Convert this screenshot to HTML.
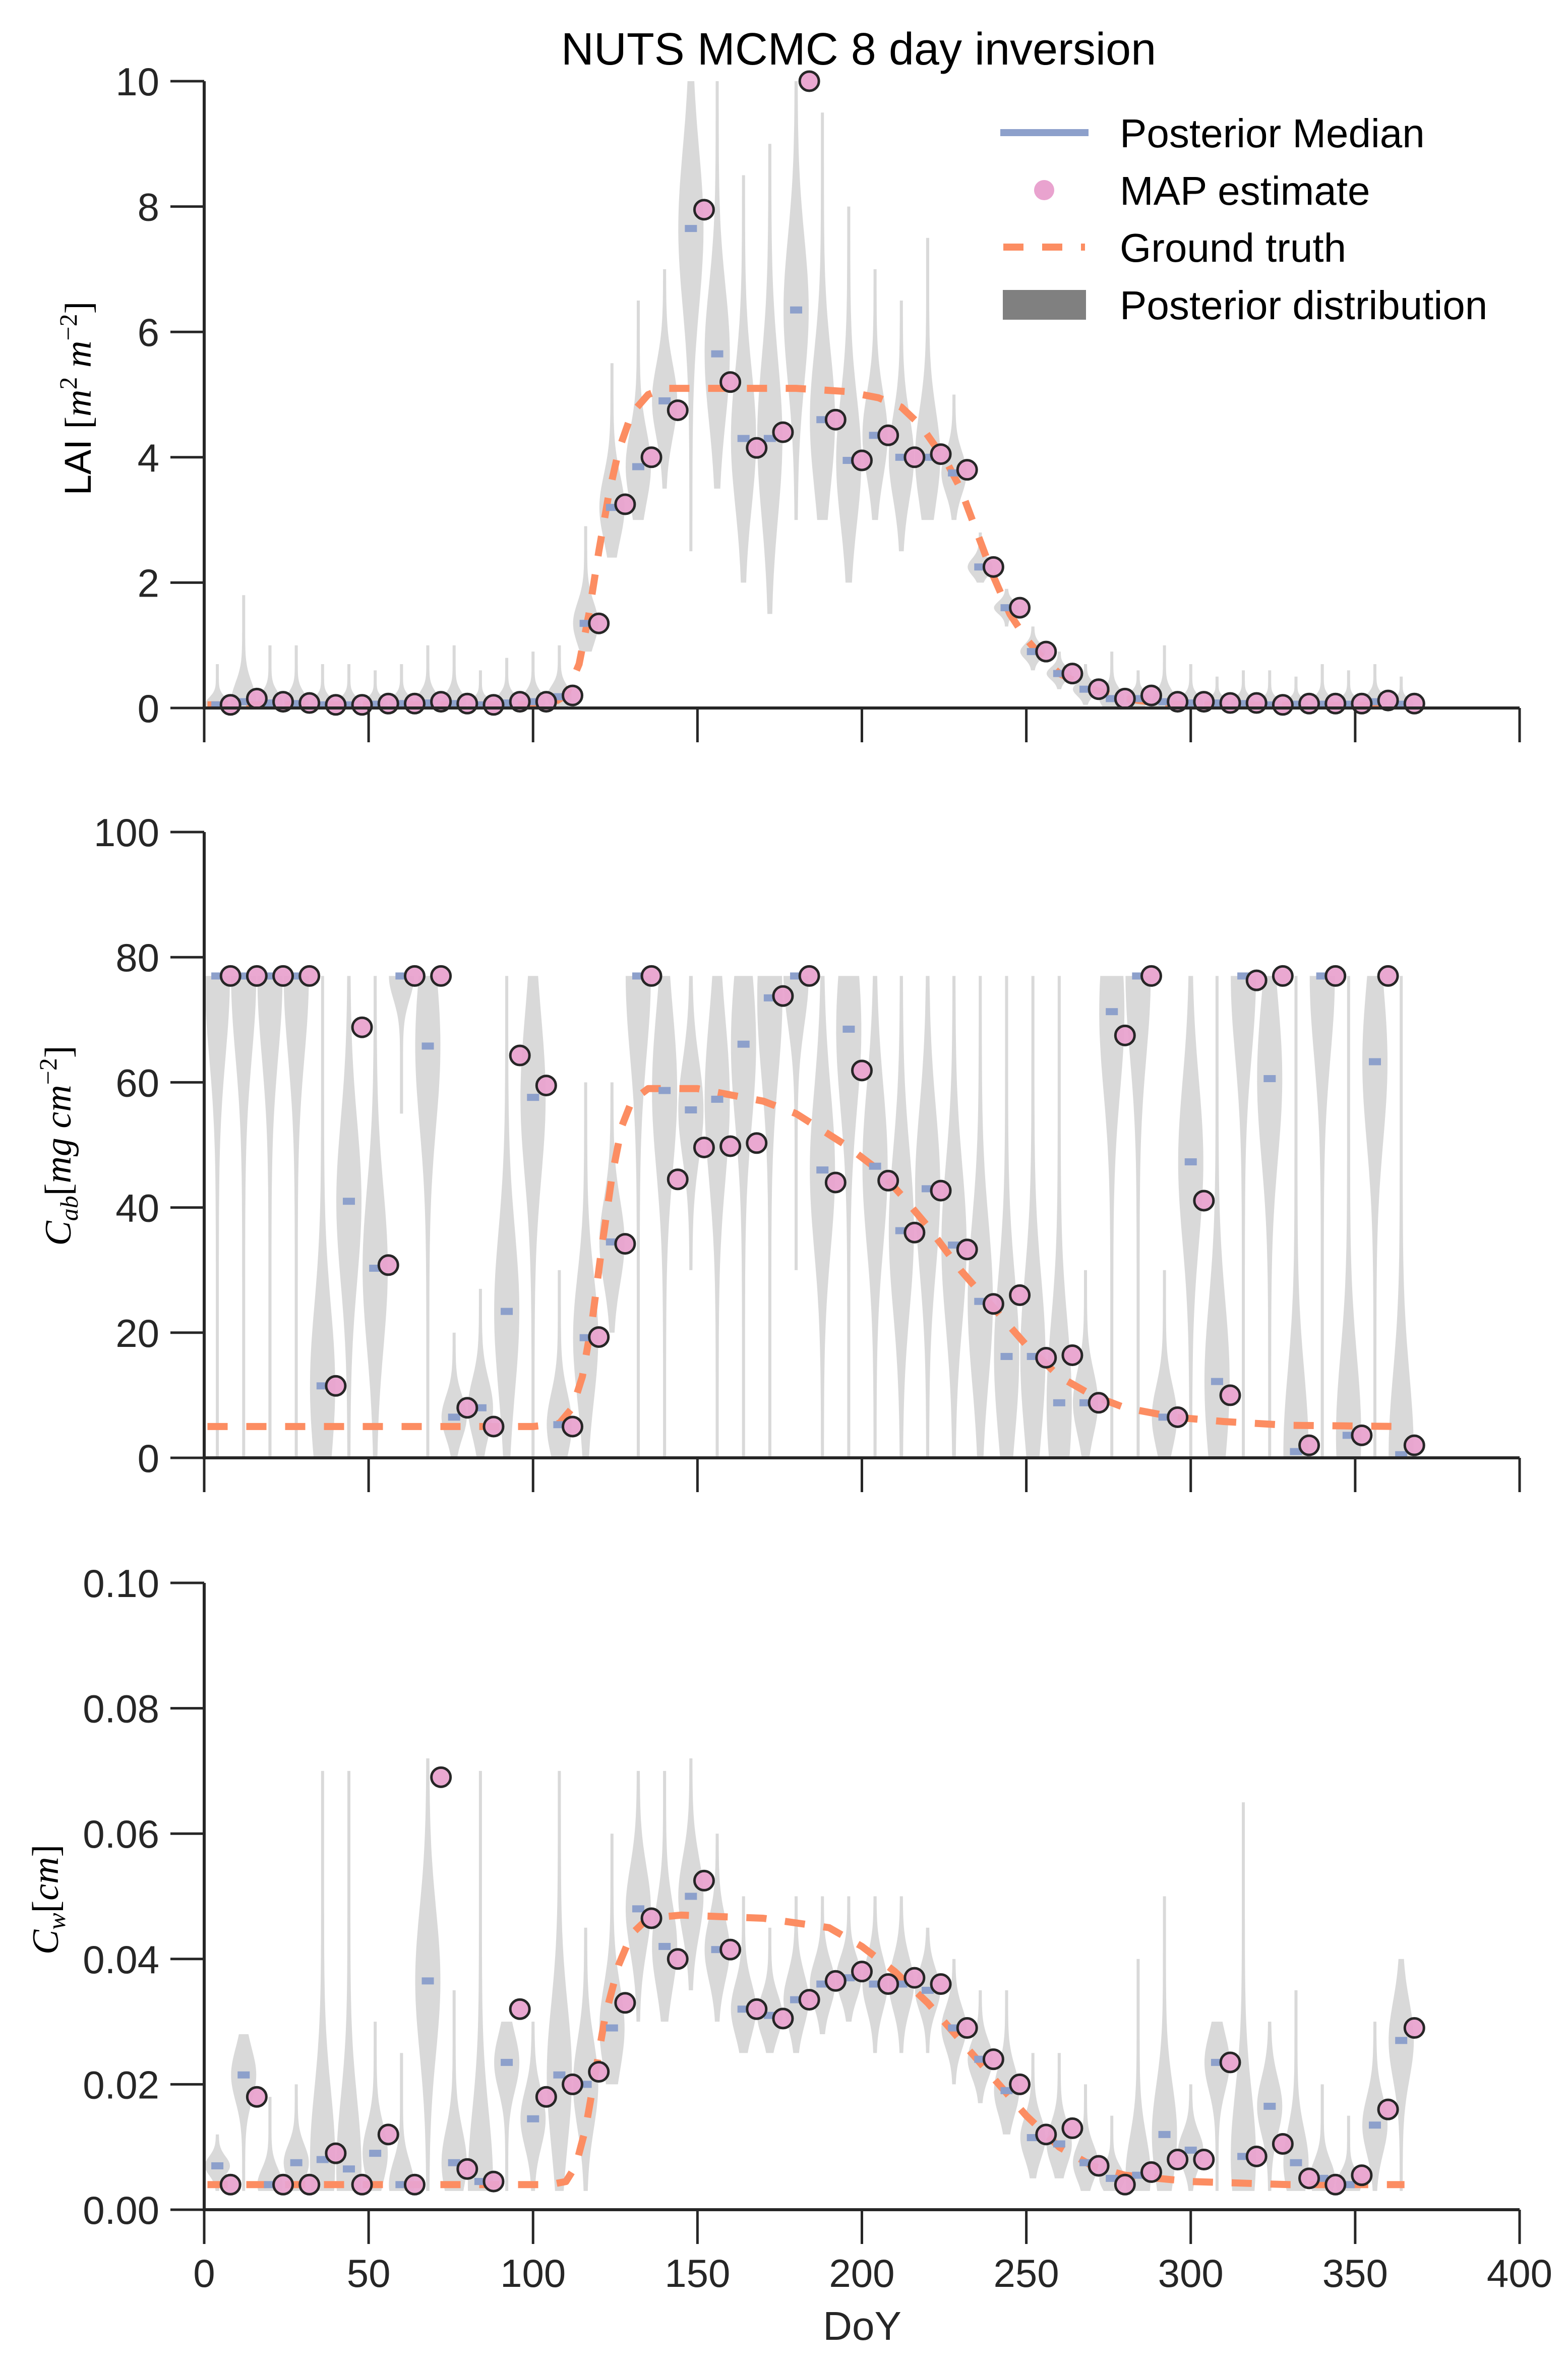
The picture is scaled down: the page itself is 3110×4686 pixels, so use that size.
<!DOCTYPE html>
<html><head><meta charset="utf-8"><style>
html,body{margin:0;padding:0;background:#fff;}
svg{display:block;font-family:"Liberation Sans",sans-serif;}
</style></head><body>
<svg id="chart" width="3110" height="4686" viewBox="0 0 3110 4686" xmlns="http://www.w3.org/2000/svg">
<rect width="3110" height="4686" fill="#fff"/>
<text x="1703" y="128" font-size="90" text-anchor="middle" fill="#000">NUTS MCMC 8 day inversion</text>
<g id="panels"></g>
<g>
  <rect x="1984" y="256" width="175" height="14" fill="#8da0cb"/>
  <text x="2221" y="292" font-size="80">Posterior Median</text>
  <circle cx="2071" cy="377" r="20" fill="#e9a3cf"/>
  <text x="2221" y="406" font-size="80">MAP estimate</text>
  <line x1="1990" y1="490" x2="2152" y2="490" stroke="#fc8d62" stroke-width="14" stroke-dasharray="40,37"/>
  <text x="2221" y="519" font-size="80">Ground truth</text>
  <rect x="1989" y="575" width="165" height="59" fill="#808080"/>
  <text x="2221" y="633" font-size="80">Posterior distribution</text>
</g>
<text x="1710" y="4640" font-size="80" text-anchor="middle" fill="#262626">DoY</text>
</svg>
<script>
// ---- data ----
const mapDays = [8,16,24,32,40,48,56,64,72,80,88,96,104,112,120,128,136,144,152,160,168,176,184,192,200,208,216,224,232,240,248,256,264,272,280,288,296,304,312,320,328,336,344,352,360,368];
const medDays = [4,12,20,28,36,44,52,60,68,76,84,92,100,108,116,124,132,140,148,156,164,172,180,188,196,204,212,220,228,236,244,252,260,268,276,284,292,300,308,316,324,332,340,348,356,364];
const xTicks = [0,50,100,150,200,250,300,350,400];

const laiMap = [0.05,0.15,0.1,0.08,0.05,0.05,0.07,0.07,0.1,0.07,0.05,0.1,0.1,0.2,1.35,3.25,4.0,4.75,7.95,5.2,4.15,4.4,10.0,4.6,3.95,4.35,4.0,4.05,3.8,2.25,1.6,0.9,0.55,0.3,0.15,0.2,0.1,0.1,0.08,0.08,0.05,0.07,0.07,0.07,0.12,0.07];
const laiMed = [0.05,0.1,0.08,0.07,0.05,0.05,0.06,0.07,0.08,0.07,0.05,0.08,0.1,0.18,1.35,3.2,3.85,4.9,7.65,5.65,4.3,4.3,6.35,4.6,3.95,4.35,4.0,4.0,3.75,2.25,1.6,0.9,0.55,0.3,0.15,0.15,0.1,0.08,0.08,0.07,0.05,0.06,0.06,0.06,0.1,0.06];
const laiLo = [0,0,0,0,0,0,0,0,0,0,0,0,0,0,0.9,2.4,3.0,3.5,2.5,3.5,2.0,1.5,3.0,3.0,2.0,3.0,2.5,3.0,3.0,2.0,1.3,0.6,0.3,0.05,0,0,0,0,0,0,0,0,0,0,0,0];
const laiHi = [0.7,1.8,1.0,1.0,0.7,0.7,0.6,0.7,1.0,1.0,0.6,0.8,0.9,1.0,2.9,5.5,6.5,7.0,10,10,8.5,9,10,9.5,8,7,6.5,7.5,5,2.8,1.9,1.3,0.9,0.7,0.9,0.6,1.0,0.7,0.5,0.6,0.6,0.5,0.7,0.6,0.7,0.5];
const laiTruthDays = [1,105,110,114,117,120,123,126,130,135,140,180,195,205,212,218,222,226,230,235,240,245,250,255,260,270,280,290,300,365];
const laiTruth = [0.05,0.05,0.2,0.7,1.5,2.5,3.4,4.1,4.7,5.0,5.1,5.1,5.05,4.95,4.8,4.5,4.2,3.9,3.5,2.8,2.1,1.5,1.1,0.8,0.55,0.3,0.15,0.08,0.05,0.04];
const laiTicks = [0,2,4,6,8,10];

const cabMap = [77,77,77,77,11.5,68.8,30.8,77,77,8,5,64.3,59.5,5,19.3,34.2,77,44.5,49.6,49.8,50.3,73.8,77,44,61.9,44.3,36,42.7,33.3,24.6,26,16,16.4,8.8,67.5,77,6.5,41.1,10,76.3,77,2,77,3.6,77,2];
const cabMed = [77,77,77,77,11.5,41,30.3,77,65.8,6.5,8,23.4,57.6,5.3,19.2,34.5,77,58.7,55.6,57.3,66.1,73.5,77,46,68.5,46.6,36.3,43,34,25,16.2,16.2,8.8,8.8,71.3,77,6.5,47.3,12.2,77,60.6,1,77,3.6,63.3,0.5];
const cabLo = [0,0,0,0,0,0,0,55,0,0,0,0,0,0,0,20,0,0,30,0,0,0,30,0,0,0,0,0,0,0,0,0,0,0,0,0,0,0,0,0,0,0,0,0,0,0];
const cabHi = [77,77,77,77,77,77,77,77,77,20,27,77,77,30,60,60,77,77,77,77,77,77,77,77,77,77,77,77,77,77,77,77,77,30,77,77,30,77,77,77,77,77,77,77,77,77];
const cabTruthDays = [1,100,108,112,115,118,121,124,127,130,135,150,170,180,195,205,212,220,230,240,250,260,270,280,295,310,330,365];
const cabTruth = [5,5,5.5,8,13,22,34,45,53,57,59,59,57,55,50,46,42,37,30,24,18,13,10,8,6.5,5.8,5.2,5];
const cabTicks = [0,20,40,60,80,100];

const cwMap = [0.004,0.018,0.004,0.004,0.009,0.004,0.012,0.004,0.069,0.0065,0.0045,0.032,0.018,0.020,0.022,0.033,0.0465,0.040,0.0525,0.0415,0.032,0.0305,0.0335,0.0365,0.038,0.036,0.037,0.036,0.029,0.024,0.020,0.012,0.013,0.007,0.004,0.006,0.008,0.008,0.0235,0.0085,0.0105,0.005,0.004,0.0055,0.016,0.029];
const cwMed = [0.007,0.0215,0.004,0.0075,0.008,0.0065,0.009,0.004,0.0365,0.0075,0.0045,0.0235,0.0145,0.0215,0.020,0.029,0.048,0.042,0.050,0.0415,0.032,0.031,0.0335,0.036,0.037,0.036,0.036,0.035,0.029,0.024,0.019,0.0115,0.0105,0.0075,0.005,0.0055,0.012,0.0095,0.0235,0.0085,0.0165,0.0075,0.005,0.004,0.0135,0.027];
const cwLo = [0.003,0.003,0.003,0.003,0.003,0.003,0.003,0.003,0.003,0.003,0.003,0.003,0.003,0.003,0.003,0.02,0.03,0.03,0.035,0.03,0.025,0.025,0.025,0.028,0.03,0.025,0.025,0.025,0.02,0.017,0.012,0.005,0.005,0.003,0.003,0.003,0.003,0.003,0.003,0.003,0.003,0.003,0.003,0.003,0.003,0.003];
const cwHi = [0.012,0.028,0.018,0.02,0.07,0.07,0.03,0.025,0.072,0.035,0.07,0.03,0.03,0.07,0.045,0.06,0.07,0.07,0.072,0.06,0.05,0.045,0.05,0.05,0.05,0.05,0.05,0.045,0.04,0.035,0.035,0.025,0.025,0.02,0.015,0.04,0.05,0.02,0.03,0.065,0.03,0.035,0.02,0.015,0.03,0.04];
const cwTruthDays = [1,105,110,113,116,119,122,126,130,135,145,170,190,200,210,220,230,240,250,260,270,280,300,330,365];
const cwTruth = [0.004,0.004,0.0045,0.007,0.013,0.022,0.031,0.039,0.044,0.0465,0.047,0.0465,0.045,0.042,0.038,0.033,0.027,0.021,0.015,0.01,0.007,0.0055,0.0045,0.004,0.004];
const cwTicks = [0,0.02,0.04,0.06,0.08,0.10];

// ---- drawing ----
const NS = "http://www.w3.org/2000/svg";
const root = document.getElementById('panels');
const X0 = 405, X1 = 3014;
function X(d){ return X0 + d*(X1-X0)/400; }
function mk(tag, attrs, parent){ const e=document.createElementNS(NS,tag); for(const k in attrs) e.setAttribute(k,attrs[k]); parent.appendChild(e); return e; }

const panels = [
 {key:'lai', top:161, bot:1404, max:10, map:laiMap, med:laiMed, lo:laiLo, hi:laiHi, td:laiTruthDays, tv:laiTruth, ticks:laiTicks, dec:0},
 {key:'cab', top:1650, bot:2891, max:100, map:cabMap, med:cabMed, lo:cabLo, hi:cabHi, td:cabTruthDays, tv:cabTruth, ticks:cabTicks, dec:0},
 {key:'cw', top:3139, bot:4382, max:0.1, map:cwMap, med:cwMed, lo:cwLo, hi:cwHi, td:cwTruthDays, tv:cwTruth, ticks:cwTicks, dec:2}
];

panels.forEach(p=>{
  const Y = v => p.bot - v/p.max*(p.bot-p.top);
  const g = mk('g',{},root);
  
  
  const vg = mk('g',{fill:'#d9d9d9'},g);
  
  
  medDays.forEach((d,i)=>{
    const cx = X(d), lo = p.lo[i], hi = p.hi[i], m = p.med[i];
    const sd = (hi-lo)/6;
    const n = 50, L = [], R = [];
    for(let s=0;s<=n;s++){
      const v = hi - (hi-lo)*s/n;
      const w = 3 + 22*Math.exp(-0.5*Math.pow((v-m)/sd,2));
      R.push((cx+w).toFixed(1)+','+Y(v).toFixed(1));
      L.unshift((cx-w).toFixed(1)+','+Y(v).toFixed(1));
    }
    const path = mk('polygon',{points:R.concat(L).join(' ')},vg);
    
    
  });
  const pts = p.td.map((d,i)=>X(d).toFixed(1)+','+Y(p.tv[i]).toFixed(1)).join(' ');
  const tl = mk('polyline',{points:pts, fill:'none', stroke:'#fc8d62', 'stroke-width':14, 'stroke-dasharray':'40,37', 'stroke-linejoin':'round'},g);
  
  
  medDays.forEach((d,i)=>{
    const r = mk('rect',{x:X(d)-12, y:Y(p.med[i])-7, width:24, height:14, fill:'#8da0cb'},g);
    
    
  });
  mapDays.forEach((d,i)=>{
    const c = mk('circle',{cx:X(d), cy:Y(p.map[i]), r:19, fill:'#e9a3cf', 'fill-opacity':0.95, stroke:'#262626', 'stroke-width':5},g);
    
    
  });
  const ax = mk('g',{stroke:'#262626'},g);
  
  
  mk('line',{x1:X0, y1:p.top, x2:X0, y2:p.bot+3, 'stroke-width':6},ax);
  mk('line',{x1:X0-3, y1:p.bot, x2:X1, y2:p.bot, 'stroke-width':6},ax);
  p.ticks.forEach(t=>{
    mk('line',{x1:338, y1:Y(t), x2:X0, y2:Y(t), 'stroke-width':5},ax);
    const tx = mk('text',{x:316, y:Y(t)+28, 'font-size':78, 'text-anchor':'end', fill:'#262626', stroke:'none'},g);
    tx.textContent = p.dec ? t.toFixed(p.dec) : String(t);
    
    
  });
  xTicks.forEach(t=>{
    mk('line',{x1:X(t), y1:p.bot, x2:X(t), y2:p.bot+68, 'stroke-width':5},ax);
  });
});

xTicks.forEach(t=>{
  const tx = mk('text',{x:X(t), y:4535, 'font-size':78, 'text-anchor':'middle', fill:'#262626'},root);
  tx.textContent = String(t);
  
  
});

function ytitle(x, y, parts, name){
  const t = mk('text',{x:0, y:0, transform:`translate(${x},${y}) rotate(-90)`, 'text-anchor':'middle', 'font-size':74, fill:'#000'},root);
  
  
  parts.forEach(pt=>{
    const s = mk('tspan',pt.a||{},t);
    s.textContent = pt.t;
  });
}
const serif = {'font-family':'Liberation Serif, serif','font-style':'italic'};
ytitle(180, 790, [
  {t:'LAI '},
  {t:'[', a:{'font-family':'Liberation Serif, serif'}},
  {t:'m', a:serif},{t:'2', a:{'font-family':'Liberation Serif, serif','font-size':50,'dy':-28}},
  {t:' m', a:Object.assign({'dy':28},serif)},{t:'−2', a:{'font-family':'Liberation Serif, serif','font-size':50,'dy':-28}},
  {t:']', a:{'font-family':'Liberation Serif, serif','dy':28}}
], 'lai-y-axis-title');
ytitle(140, 2272, [
  {t:'C', a:serif},{t:'ab', a:Object.assign({'font-size':50,'dy':14},serif)},
  {t:'[', a:{'font-family':'Liberation Serif, serif','dy':-14}},
  {t:'mg cm', a:serif},{t:'−2', a:{'font-family':'Liberation Serif, serif','font-size':50,'dy':-28}},
  {t:']', a:{'font-family':'Liberation Serif, serif','dy':28}}
], 'cab-y-axis-title');
ytitle(115, 3767, [
  {t:'C', a:serif},{t:'w', a:Object.assign({'font-size':50,'dy':14},serif)},
  {t:'[', a:{'font-family':'Liberation Serif, serif','dy':-14}},
  {t:'cm', a:serif},
  {t:']', a:{'font-family':'Liberation Serif, serif'}}
], 'cw-y-axis-title');
</script>
</body></html>
